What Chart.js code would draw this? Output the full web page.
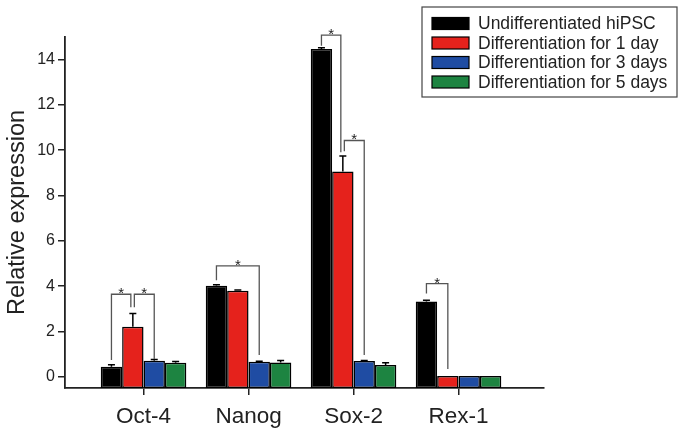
<!DOCTYPE html>
<html>
<head>
<meta charset="utf-8">
<script src="https://cdn.jsdelivr.net/npm/chart.js@4"></script>
<style>
  html, body { margin: 0; padding: 0; background: #fff; }
  #chart { display: block; }
</style>
</head>
<body>
<canvas id="chart" width="685" height="434"></canvas>
<script>
// values
const categories = ['Oct-4', 'Nanog', 'Sox-2', 'Rex-1'];
const seriesNames = ['Undifferentiated hiPSC', 'Differentiation for 1 day', 'Differentiation for 3 days', 'Differentiation for 5 days'];
const undiff = [0.44, 4.01, 14.47, 3.32];
const day1   = [2.20, 3.79, 9.06, 0.03];
const day3   = [0.70, 0.66, 0.69, 0.03];
const day5   = [0.62, 0.63, 0.52, 0.03];
const undiffErr = [0.09, 0.05, 0.05, 0.05];
const day1Err   = [0.59, 0.04, 0.68, 0];
const day3Err   = [0.06, 0.02, 0.02, 0];
const day5Err   = [0.05, 0.08, 0.10, 0];
const yTicks = [0, 2, 4, 6, 8, 10, 12, 14];
const Y_MIN = -0.5, Y_MAX = 15;

// significance brackets: category, from/to series, top and leg ends (data units)
const brackets = [
  { cat: 0, from: 0, to: 1, top: 3.64, fromEnd: 0.74, toEnd: 3.07 },
  { cat: 0, from: 1, to: 2, top: 3.64, fromEnd: 3.07, toEnd: 0.78 },
  { cat: 1, from: 0, to: 2, top: 4.89, fromEnd: 4.26, toEnd: 0.96 },
  { cat: 2, from: 0, to: 1, top: 15.08, fromEnd: 14.61, toEnd: 9.91 },
  { cat: 2, from: 1, to: 2, top: 10.43, fromEnd: 9.96, toEnd: 0.96 },
  { cat: 3, from: 0, to: 1, top: 4.11, fromEnd: 3.67, toEnd: 0.34 }
];

const colors = ['#000000', '#e5221c', '#1f4ca3', '#1d8441'];
const FONT = '"Liberation Sans", Arial, sans-serif';

const allValues = [undiff, day1, day3, day5];
const allErrors = [undiffErr, day1Err, day3Err, day5Err];

const datasets = allValues.map((vals, k) => ({
  label: seriesNames[k],
  data: vals.map((v, i) => ({ x: i + 1, y: v })),
  errors: allErrors[k],
  backgroundColor: colors[k],
  borderColor: '#000',
  borderWidth: 1.5,
  borderSkipped: false,
  base: Y_MIN,
  categoryPercentage: 0.815,
  barPercentage: 1
}));

const overlay = {
  id: 'overlay',
  afterDatasetsDraw(chart) {
    const ctx = chart.ctx;
    const ys = chart.scales.y;
    ctx.save();

    // error bars (upper only)
    ctx.strokeStyle = '#000';
    ctx.lineWidth = 1.5;
    chart.data.datasets.forEach((ds, di) => {
      const meta = chart.getDatasetMeta(di);
      meta.data.forEach((bar, i) => {
        const e = ds.errors[i];
        if (!e) return;
        const yTop = ys.getPixelForValue(ds.data[i].y + e);
        const yBar = ys.getPixelForValue(ds.data[i].y);
        ctx.beginPath();
        ctx.moveTo(bar.x, yBar);
        ctx.lineTo(bar.x, yTop);
        ctx.moveTo(bar.x - 3.5, yTop);
        ctx.lineTo(bar.x + 3.5, yTop);
        ctx.stroke();
      });
    });

    // brackets with stars
    ctx.strokeStyle = '#555';
    ctx.lineWidth = 1.3;
    ctx.fillStyle = '#222';
    ctx.font = '15px ' + FONT;
    ctx.textAlign = 'center';
    ctx.textBaseline = 'alphabetic';
    brackets.forEach(b => {
      const shared = s => brackets.some(o => o !== b && o.cat === b.cat && (o.from === s || o.to === s));
      let x1 = chart.getDatasetMeta(b.from).data[b.cat].x;
      let x2 = chart.getDatasetMeta(b.to).data[b.cat].x;
      if (shared(b.from)) x1 += 1.5;
      if (shared(b.to)) x2 -= 2;
      const yT = ys.getPixelForValue(b.top);
      ctx.beginPath();
      ctx.moveTo(x1, ys.getPixelForValue(b.fromEnd));
      ctx.lineTo(x1, yT);
      ctx.lineTo(x2, yT);
      ctx.lineTo(x2, ys.getPixelForValue(b.toEnd));
      ctx.stroke();
      ctx.fillText('*', (x1 + x2) / 2, yT + 4);
    });

    // legend box
    const lx = 422, ly = 7, lw = 255, lh = 90;
    ctx.strokeStyle = '#444';
    ctx.lineWidth = 1.2;
    ctx.strokeRect(lx, ly, lw, lh);
    ctx.font = '17.5px ' + FONT;
    ctx.textAlign = 'left';
    ctx.textBaseline = 'middle';
    chart.data.datasets.forEach((ds, i) => {
      const cy = 23.5 + i * 19.5;
      ctx.fillStyle = ds.backgroundColor;
      ctx.fillRect(432, cy - 6, 37, 12);
      ctx.strokeStyle = '#000';
      ctx.lineWidth = 1.2;
      ctx.strokeRect(432, cy - 6, 37, 12);
      ctx.fillStyle = '#222';
      ctx.fillText(ds.label, 478, cy + 1);
    });
    ctx.restore();
  }
};

new Chart(document.getElementById('chart'), {
  type: 'bar',
  data: { datasets },
  plugins: [overlay],
  options: {
    responsive: false,
    animation: false,
    layout: { padding: { left: 0, right: 141, top: 37, bottom: 0 } },
    plugins: {
      legend: { display: false },
      tooltip: { enabled: false }
    },
    scales: {
      x: {
        type: 'linear',
        min: 0.252,
        max: 4.814,
        offset: false,
        afterBuildTicks: s => { s.ticks = categories.map((c, i) => ({ value: i + 1 })); },
        afterFit: s => { s.height = 46; },
        grid: { display: true, offset: false, drawOnChartArea: false, drawTicks: true, tickLength: 7, color: '#222', lineWidth: 1.5 },
        border: { display: true, color: '#222', width: 1.8 },
        ticks: {
          autoSkip: false,
          maxRotation: 0,
          padding: 8,
          color: '#222',
          font: { family: FONT, size: 22.5 },
          callback: v => categories[v - 1]
        }
      },
      y: {
        min: Y_MIN,
        max: Y_MAX,
        afterBuildTicks: s => { s.ticks = yTicks.map(v => ({ value: v })); },
        afterFit: s => { s.width = 65; },
        grid: { display: true, drawOnChartArea: false, drawTicks: true, tickLength: 7, color: '#222', lineWidth: 1.5 },
        border: { display: true, color: '#222', width: 1.8 },
        ticks: {
          padding: 3,
          color: '#222',
          font: { family: FONT, size: 16 },
          callback: v => String(v)
        },
        title: {
          display: true,
          text: 'Relative expression',
          color: '#222',
          font: { family: FONT, size: 23.5 },
          padding: { top: 3, bottom: 0 }
        }
      }
    }
  }
});
</script>
</body>
</html>
